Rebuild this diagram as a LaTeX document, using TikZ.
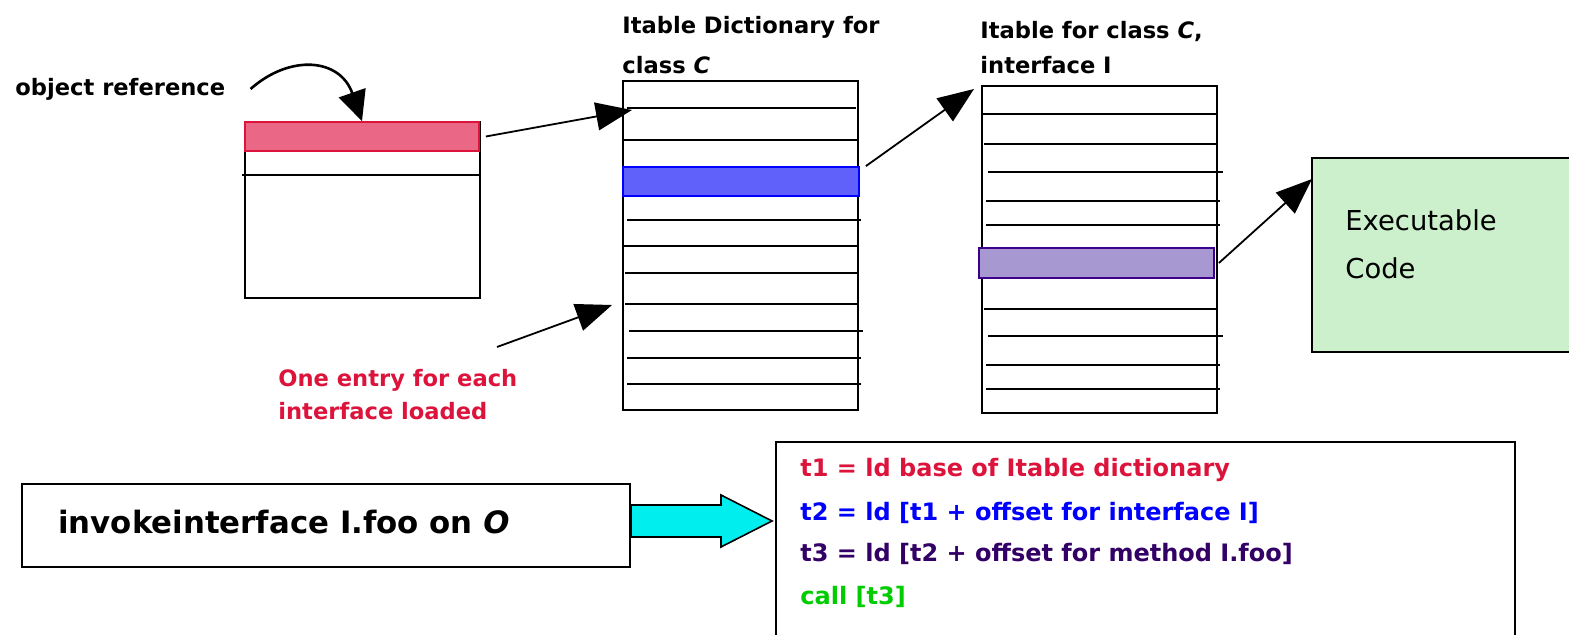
\documentclass[tikz,border=0pt]{standalone}
\usepackage{fontspec}
\setmainfont{DejaVu Sans}
\usetikzlibrary{arrows.meta,calc}

\definecolor{refred}{RGB}{220,20,60}
\definecolor{refblue}{RGB}{0,0,255}
\definecolor{refpurple}{RGB}{51,0,102}
\definecolor{refgreen}{RGB}{0,204,0}
\definecolor{pinkfill}{RGB}{234,104,134}
\definecolor{bluefill}{RGB}{96,96,250}
\definecolor{purplefill}{RGB}{168,152,210}
\definecolor{purpleline}{RGB}{60,0,140}
\definecolor{codegreen}{RGB}{204,240,204}
\definecolor{arrowcyan}{RGB}{0,238,238}

\begin{document}
\begin{tikzpicture}[x=0.5pt,y=-0.5pt,
    bigtip/.style={-{Triangle[length=18pt,width=14pt]}, line width=0.9pt}]

      \useasboundingbox (0,0) rectangle (1569,635);

      % boxes
      \begin{scope}[every node/.style={draw, line width=1pt, inner sep=0pt}]
        \node (obj)    at (362.5,210)   [minimum width=117.5pt, minimum height=88pt] {};
        \node (dict)   at (740.5,245.5) [minimum width=117.5pt, minimum height=164.5pt] {};
        \node (itab)   at (1099.5,249.5) [minimum width=117.5pt, minimum height=163.5pt] {};
        \node (exec)   at (1443.5,255)  [fill=codegreen, minimum width=131.5pt, minimum height=97pt] {};
        \node (invoke) at (326,525.5)   [minimum width=304pt, minimum height=41.5pt] {};
        \node (code)   at (1145.5,541)  [minimum width=369.5pt, minimum height=99pt] {};
      \end{scope}

      % table rows
      \begin{scope}[line width=1pt]
        \draw (242,175) -- (479,175);
        \foreach \y/\a/\b in {108/627/856, 140/624/857, 220/627/861, 246/623/859,
                              273/625/857, 304/625/858, 331/629/863, 358/627/861, 384/627/861}
          \draw (\a,\y) -- (\b,\y);
        \foreach \y/\a/\b in {114/982/1216, 144/984/1217, 172/988/1223, 201/986/1220,
                              225/986/1220, 309/984/1217, 336/988/1223, 365/986/1220, 389/986/1220}
          \draw (\a,\y) -- (\b,\y);
      \end{scope}

      % selected entries
      \begin{scope}[every node/.style={line width=0.9pt, inner sep=0pt, minimum height=14.5pt}]
        \node (objbar) at (362,136.5)  [draw=refred, fill=pinkfill, minimum width=117pt] {};
        \node (dbar)   at (741,181.5)  [draw=refblue, fill=bluefill, minimum width=118pt] {};
        \node (ibar)   at (1096.5,263) [draw=purpleline, fill=purplefill, minimum width=117.5pt, minimum height=15pt] {};
      \end{scope}

      % labels
      \begin{scope}[every node/.style={anchor=west, inner sep=0pt, align=left,
                    font=\bfseries\fontsize{11.3}{20}\selectfont}]
        \node (objref)    at (15,89)   {object reference};
        \node (dictlabel) at (622,45)  {Itable Dictionary for\\class \textit{C}};
        \node (itablabel) at (980,47.5) [font=\bfseries\fontsize{11.3}{17.5}\selectfont]
                                       {Itable for class \textit{C},\\interface I};
        \node (note)      at (278,394.5) [text=refred, font=\bfseries\fontsize{11.3}{16.5}\selectfont]
                                       {One entry for each\\interface loaded};
        \node (exectext)  at (1345,244) [font=\fontsize{13.7}{24}\selectfont]
                                       {Executable\\Code};
        \node (invoketext) at (58,522) [font=\bfseries\fontsize{15.4}{18}\selectfont]
                                       {invokeinterface I.foo on \textit{O}};
      \end{scope}

      % code lines
      \begin{scope}[every node/.style={anchor=west, inner sep=0pt,
                    font=\bfseries\fontsize{12}{14}\selectfont}]
        \node (line1) at (800,470) [text=refred]    {t1 = ld base of Itable dictionary};
        \node (line2) at (800,513) [text=refblue]   {t2 = ld [t1 + offset for interface I]};
        \node (line3) at (800,554) [text=refpurple] {t3 = ld [t2 + offset for method I.foo]};
        \node (line4) at (800,597) [text=refgreen]  {call [t3]};
      \end{scope}

      % pointers
      \coordinate (drow)     at (632,110);
      \coordinate (notetail) at (497,347);
      \coordinate (notehead) at (612,305);

      \draw[-{Triangle[length=15pt,width=14pt]}, line width=1.3pt] ([xshift=12.5pt]objref.east)
        .. controls (290,54) and (340,58) .. (objbar.north);
      \draw[bigtip] ([xshift=3pt]objbar.east) -- (drow);
      \draw[bigtip] ([xshift=3pt]dbar.north east) -- ([shift={(-7,4)}]itab.north west);
      \draw[bigtip] ([xshift=2pt]ibar.east) -- ([shift={(1,22)}]exec.north west);
      \draw[bigtip] (notetail) -- (notehead);

      % block arrow
      \coordinate (barrow) at ([yshift=2.25pt]invoke.east);
      \filldraw[fill=arrowcyan, line width=0.8pt]
        ($(barrow)+(0,-16)$) -- ++(90,0) -- ++(0,-10) -- ($(code.west |- barrow)+(-3,0)$)
        -- ($(barrow)+(90,26)$) -- ++(0,-10) -- ($(barrow)+(0,16)$) -- cycle;

\end{tikzpicture}
\end{document}
